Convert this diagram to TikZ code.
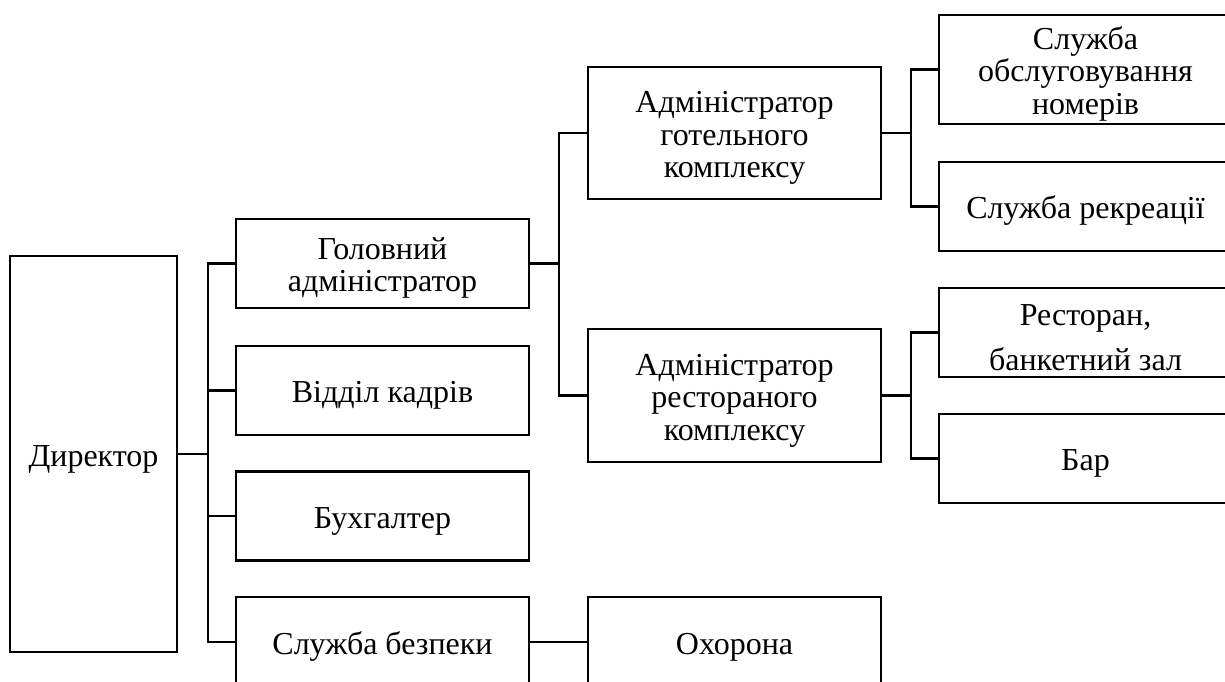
\documentclass[tikz,border=0pt]{standalone}
\usepackage{fontspec}
\setmainfont{Liberation Serif}
\usepackage{tikz}
\tikzset{unit/.style = {draw, line width = 2.2, rectangle, inner sep = 0, align = center,
    minimum width = 293, minimum height = 89, font = \fontsize{32}{32.5}\selectfont}}
\tikzset{link/.style = {line width = 2.2}}
\newcommand{\topstrut}{\rule{0pt}{31pt}}

\begin{document}
\begin{tikzpicture}[x = 1pt, y = -1pt]
    \useasboundingbox (0, 0) rectangle (1225, 682);
    \clip (0, 0) rectangle (1225, 682);

    \node [unit, minimum width = 167, minimum height = 396] (dir) at (93.5, 454) {\topstrut Директор};

    \node [unit] (head) at (382.5, 263.5) {\topstrut Головний\\адміністратор};
    \node [unit] (hr) at (382.5, 390.5) {\topstrut Відділ кадрів};
    \node [unit] (acc) at (382.5, 516) {\topstrut Бухгалтер};
    \node [unit, minimum height = 90] (sec) at (382.5, 642) {\topstrut Служба безпеки};

    \node [unit, minimum height = 132] (hotel) at (734.5, 133) {\topstrut Адміністратор\\готельного\\комплексу};
    \node [unit, minimum height = 133] (rest) at (734.5, 395.5) {\topstrut Адміністратор\\рестораного\\комплексу};
    \node [unit, minimum height = 90] (guard) at (734.5, 642) {\topstrut Охорона};

    \node [unit, minimum height = 109] (rooms) at (1085.5, 69.5) {\topstrut Служба\\обслуговування\\номерів};
    \node [unit] (recr) at (1085.5, 206.5) {\topstrut Служба рекреації};
    \node [unit] (rstr) at (1085.5, 332.5) {\topstrut Ресторан,\\[12pt]банкетний зал};
    \node [unit] (bar) at (1085.5, 458.5) {\topstrut Бар};

    \foreach \kid in {head, hr, acc, sec}
        \draw [link] (dir.east) -- +(30, 0) |- (\kid.west);
    \foreach \kid in {hotel, rest}
        \draw [link] (head.east) -- +(29, 0) |- (\kid.west);
    \foreach \kid in {rooms, recr}
        \draw [link] (hotel.east) -- +(29, 0) |- (\kid.west);
    \foreach \kid in {rstr, bar}
        \draw [link] (rest.east) -- +(29, 0) |- (\kid.west);
    \draw [link] (sec) -- (guard);
\end{tikzpicture}
\end{document}
